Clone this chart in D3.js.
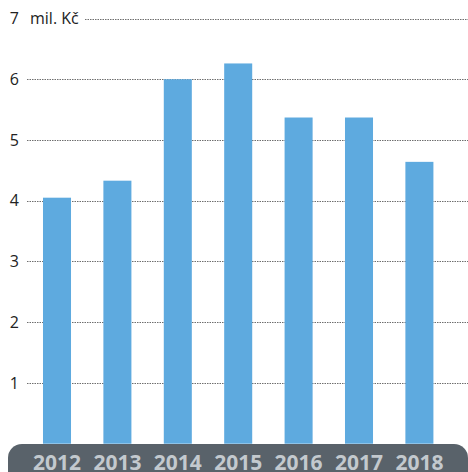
<!DOCTYPE html>
<html><head><meta charset="utf-8">
<script src="https://cdn.jsdelivr.net/npm/d3@7"></script>
<style>html,body{margin:0;padding:0;background:#fff;overflow:hidden}</style>
</head><body>
<script>
const years = ["2012","2013","2014","2015","2016","2017","2018"];
const values = [4.05, 4.33, 6.0, 6.26, 5.37, 5.37, 4.64];
const yTicks = [1,2,3,4,5,6,7];
const unitLabel = "mil. Kč";

const W = 468, H = 472;
const svg = d3.select("body").append("svg").attr("width", W).attr("height", H);

const x = d3.scaleBand().domain(years).range([26.8, 449.6]).paddingInner(0.536).paddingOuter(0.268);
const y = d3.scaleLinear().domain([0, 7]).range([443.7, 18.5]);

// gridlines
svg.append("g").selectAll("line").data(yTicks).join("line")
  .attr("x1", d => d === 7 ? 85 : 27)
  .attr("x2", W)
  .attr("y1", d => Math.round(y(d)) + 0.5)
  .attr("y2", d => Math.round(y(d)) + 0.5)
  .attr("stroke", "#6e6e6e")
  .attr("stroke-width", 1)
  .attr("stroke-dasharray", "1.5,1");

// tick labels
svg.append("g").selectAll("text").data(yTicks).join("text")
  .attr("x", 19)
  .attr("y", d => y(d) + 5.6)
  .attr("text-anchor", "end")
  .attr("font-family", "Open Sans")
  .attr("font-size", 16)
  .attr("fill", "#222")
  .text(d => d);

svg.append("text")
  .attr("x", 30).attr("y", y(7) + 5.6)
  .attr("font-family", "Open Sans").attr("font-size", 16).attr("fill", "#222")
  .text(unitLabel);

// bars
svg.append("g").selectAll("rect").data(years).join("rect")
  .attr("x", d => x(d))
  .attr("width", x.bandwidth())
  .attr("y", (d, i) => y(values[i]))
  .attr("height", (d, i) => y(0) - y(values[i]))
  .attr("fill", "#5eaadf");

// bottom band
svg.append("rect")
  .attr("x", 8).attr("y", 444).attr("width", 460).attr("height", 50)
  .attr("rx", 14).attr("ry", 14)
  .attr("fill", "#59626a");

svg.append("g").selectAll("text").data(years).join("text")
  .attr("x", d => x(d) + x.bandwidth() / 2)
  .attr("y", 470)
  .attr("text-anchor", "middle")
  .attr("font-family", "Open Sans")
  .attr("font-weight", "bold")
  .attr("font-size", 21)
  .attr("fill", "#c3c9ce")
  .text(d => d);
</script>
</body></html>
